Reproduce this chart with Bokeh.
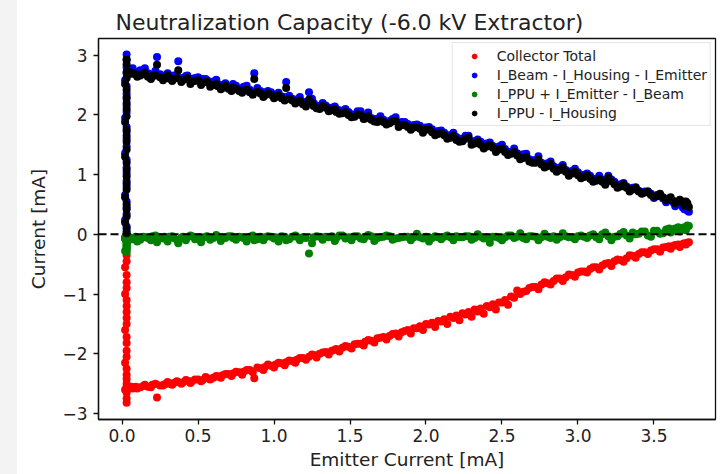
from bokeh.plotting import figure
from bokeh.models import (Range1d, Span, Legend, LegendItem, FixedTicker, Spacer,
                          ColumnDataSource)
from bokeh.layouts import row
from bokeh.embed import file_html
from bokeh.resources import INLINE

TITLE = "Neutralization Capacity (-6.0 kV Extractor)"
X_LABEL = "Emitter Current [mA]"
Y_LABEL = "Current [mA]"
SERIES_NAMES = ["Collector Total", "I_Beam - I_Housing - I_Emitter",
                "I_PPU + I_Emitter - I_Beam", "I_PPU - I_Housing"]

# --- vertical cluster at the lowest emitter current ---
cluster_x = [0.03, 0.03, 0.02, 0.03, 0.03, 0.03, 0.02, 0.03, 0.03, 0.03,
             0.03, 0.03, 0.02, 0.03, 0.03, 0.03, 0.03, 0.02, 0.03, 0.03,
             0.03, 0.03, 0.03, 0.02, 0.03, 0.03, 0.03, 0.03]
cluster_black = [0.02, 0.10, 0.20, 0.30, 0.42, 0.50, 0.62, 0.75, 0.85, 0.97,
                 1.08, 1.20, 1.30, 1.42, 1.55, 1.65, 1.75, 1.88, 1.98, 2.10,
                 2.20, 2.30, 2.42, 2.52, 2.62, 2.72, 2.85, 2.93]
cluster_blue = [0.05, 0.13, 0.24, 0.34, 0.45, 0.55, 0.66, 0.80, 0.90, 1.02,
                1.12, 1.25, 1.36, 1.47, 1.60, 1.72, 1.80, 1.95, 2.05, 2.16,
                2.27, 2.36, 2.48, 2.58, 2.70, 2.80, 2.92, 3.01]
cluster_green = [-0.02, -0.04, -0.06, -0.08, -0.10, -0.12, -0.05, -0.14, -0.16, -0.06,
                 -0.18, -0.20, -0.07, -0.22, -0.24, -0.05, -0.26, -0.28, -0.06, -0.30,
                 -0.08, -0.05, -0.10, -0.07, -0.12, -0.06, -0.09, -0.04]
cluster_red = [-0.35, -0.45, -0.55, -0.68, -0.80, -0.90, -1.00, -1.10, -1.20, -1.30,
               -1.40, -1.50, -1.60, -1.72, -1.82, -1.95, -2.05, -2.15, -2.25, -2.35,
               -2.42, -2.50, -2.55, -2.60, -2.62, -2.65, -2.75, -2.82]

# --- first sweep of emitter current ---
sweep1_x = [0.05, 0.07, 0.09, 0.12, 0.14, 0.17, 0.20, 0.23, 0.25, 0.28,
            0.31, 0.34, 0.37, 0.40, 0.43, 0.46, 0.50, 0.53, 0.56, 0.60,
            0.63, 0.66, 0.70, 0.73, 0.77, 0.80, 0.84, 0.87, 0.91, 0.94,
            0.98, 1.01, 1.05, 1.08, 1.12, 1.15, 1.19, 1.23, 1.26, 1.30,
            1.34, 1.38, 1.41, 1.45, 1.49, 1.53, 1.57, 1.60, 1.64, 1.68,
            1.72, 1.76, 1.80, 1.84, 1.88, 1.92, 1.96, 2.00, 2.04, 2.08,
            2.12, 2.16, 2.20, 2.24, 2.28, 2.32, 2.36, 2.40, 2.44, 2.48,
            2.52, 2.56, 2.60, 2.64, 2.68, 2.72, 2.76, 2.80, 2.84, 2.88,
            2.92, 2.96, 3.00, 3.04, 3.08, 3.12, 3.16, 3.20, 3.24, 3.28,
            3.32, 3.36, 3.40, 3.44, 3.48, 3.52, 3.56, 3.60, 3.63, 3.66,
            3.69, 3.72]
sweep1_black = [2.72, 2.70, 2.68, 2.66, 2.69, 2.64, 2.65, 2.84, 2.63, 2.62,
                2.61, 2.60, 2.75, 2.58, 2.62, 2.56, 2.58, 2.54, 2.55, 2.50,
                2.48, 2.45, 2.44, 2.46, 2.40, 2.41, 2.38, 2.60, 2.36, 2.33,
                2.34, 2.30, 2.28, 2.45, 2.24, 2.22, 2.18, 2.26, 2.15, 2.10,
                2.12, 2.08, 2.05, 2.03, 2.00, 1.97, 2.00, 1.94, 1.92, 1.88,
                1.88, 1.86, 1.90, 1.83, 1.80, 1.79, 1.77, 1.75, 1.71, 1.68,
                1.66, 1.62, 1.58, 1.56, 1.62, 1.52, 1.50, 1.47, 1.45, 1.42,
                1.38, 1.35, 1.32, 1.28, 1.22, 1.20, 1.17, 1.14, 1.10, 1.08,
                1.05, 1.02, 0.99, 0.96, 0.93, 0.90, 0.88, 0.95, 0.84, 0.80,
                0.78, 0.75, 0.72, 0.70, 0.66, 0.64, 0.62, 0.60, 0.56, 0.55,
                0.55, 0.52]
sweep1_blue = [2.77, 2.78, 2.72, 2.75, 2.73, 2.70, 2.68, 2.97, 2.68, 2.66,
               2.65, 2.66, 2.90, 2.62, 2.66, 2.60, 2.63, 2.60, 2.58, 2.56,
               2.52, 2.50, 2.47, 2.52, 2.44, 2.47, 2.42, 2.70, 2.40, 2.38,
               2.38, 2.34, 2.31, 2.55, 2.27, 2.26, 2.22, 2.38, 2.20, 2.14,
               2.16, 2.12, 2.10, 2.06, 2.05, 2.00, 2.06, 1.98, 1.95, 1.93,
               1.92, 1.90, 1.96, 1.88, 1.85, 1.83, 1.82, 1.79, 1.76, 1.73,
               1.70, 1.66, 1.63, 1.60, 1.65, 1.56, 1.55, 1.52, 1.48, 1.47,
               1.43, 1.38, 1.36, 1.34, 1.26, 1.24, 1.20, 1.19, 1.14, 1.12,
               1.08, 1.06, 1.04, 1.00, 0.98, 0.93, 0.92, 0.98, 0.88, 0.84,
               0.80, 0.78, 0.73, 0.72, 0.68, 0.66, 0.60, 0.58, 0.53, 0.52,
               0.45, 0.40]
sweep1_green = [-0.05, -0.08, -0.04, -0.09, -0.04, -0.06, -0.03, -0.13, -0.05, -0.04,
                -0.04, -0.06, -0.15, -0.04, -0.05, -0.03, -0.05, -0.06, -0.03, -0.06,
                -0.04, -0.05, -0.03, -0.06, -0.04, -0.06, -0.04, -0.10, -0.04, -0.05,
                -0.04, -0.05, -0.03, -0.10, -0.04, -0.04, -0.05, -0.32, -0.05, -0.04,
                -0.04, -0.03, -0.06, -0.02, -0.05, -0.03, -0.07, -0.04, -0.03, -0.06,
                -0.04, -0.03, -0.07, -0.05, -0.04, -0.05, -0.05, -0.04, -0.06, -0.05,
                -0.04, -0.05, -0.03, -0.05, -0.03, -0.06, -0.04, -0.05, -0.04, -0.06,
                -0.05, -0.02, -0.04, -0.06, -0.03, -0.04, -0.05, -0.04, -0.03, -0.05,
                -0.03, -0.05, -0.03, -0.04, -0.02, -0.05, 0.00, -0.03, -0.04, 0.01,
                -0.02, 0.03, 0.01, 0.05, -0.04, 0.06, 0.02, 0.10, 0.08, 0.12,
                0.10, 0.15]
sweep1_red = [-2.57, -2.58, -2.55, -2.56, -2.54, -2.55, -2.52, -2.73, -2.53, -2.51,
              -2.50, -2.49, -2.47, -2.48, -2.45, -2.46, -2.43, -2.44, -2.41, -2.40,
              -2.38, -2.36, -2.34, -2.33, -2.31, -2.30, -2.27, -2.41, -2.24, -2.22,
              -2.20, -2.18, -2.16, -2.14, -2.12, -2.10, -2.07, -2.05, -2.02, -2.00,
              -1.97, -1.95, -1.92, -1.90, -1.88, -1.84, -1.83, -1.80, -1.78, -1.74,
              -1.72, -1.70, -1.66, -1.64, -1.60, -1.57, -1.54, -1.50, -1.48, -1.45,
              -1.42, -1.38, -1.36, -1.32, -1.30, -1.26, -1.24, -1.20, -1.17, -1.14,
              -1.10, -1.04, -0.94, -0.96, -0.90, -0.88, -0.84, -0.82, -0.78, -0.74,
              -0.72, -0.68, -0.64, -0.62, -0.58, -0.55, -0.52, -0.48, -0.45, -0.43,
              -0.40, -0.36, -0.33, -0.30, -0.27, -0.25, -0.22, -0.20, -0.19, -0.17,
              -0.16, -0.14]

# --- second sweep of emitter current ---
sweep2_x = [0.06, 0.10, 0.15, 0.19, 0.22, 0.27, 0.30, 0.33, 0.36, 0.39,
            0.42, 0.45, 0.48, 0.52, 0.55, 0.58, 0.62, 0.65, 0.68, 0.72,
            0.75, 0.79, 0.82, 0.86, 0.89, 0.93, 0.96, 1.00, 1.03, 1.07,
            1.10, 1.14, 1.17, 1.21, 1.25, 1.28, 1.32, 1.36, 1.40, 1.43,
            1.47, 1.51, 1.55, 1.59, 1.62, 1.66, 1.70, 1.74, 1.78, 1.82,
            1.86, 1.90, 1.94, 1.98, 2.02, 2.06, 2.10, 2.14, 2.18, 2.22,
            2.26, 2.30, 2.34, 2.38, 2.42, 2.46, 2.50, 2.54, 2.58, 2.62,
            2.66, 2.70, 2.74, 2.78, 2.82, 2.86, 2.90, 2.94, 2.98, 3.02,
            3.06, 3.10, 3.14, 3.18, 3.22, 3.26, 3.30, 3.34, 3.38, 3.42,
            3.46, 3.50, 3.54, 3.58, 3.61, 3.64, 3.67, 3.70, 3.71, 3.73]
sweep2_black = [2.69, 2.64, 2.71, 2.60, 2.66, 2.58, 2.66, 2.57, 2.62, 2.55,
                2.60, 2.52, 2.57, 2.50, 2.55, 2.47, 2.52, 2.43, 2.49, 2.40,
                2.44, 2.37, 2.42, 2.34, 2.39, 2.30, 2.36, 2.28, 2.33, 2.24,
                2.27, 2.19, 2.24, 2.14, 2.20, 2.11, 2.15, 2.06, 2.10, 2.02,
                2.05, 1.96, 2.01, 1.93, 1.98, 1.89, 1.91, 1.84, 1.89, 1.80,
                1.83, 1.75, 1.80, 1.70, 1.76, 1.66, 1.70, 1.60, 1.65, 1.55,
                1.60, 1.50, 1.55, 1.44, 1.50, 1.38, 1.44, 1.33, 1.38, 1.26,
                1.30, 1.20, 1.25, 1.12, 1.18, 1.05, 1.12, 0.98, 1.05, 0.94,
                0.99, 0.88, 0.93, 0.83, 0.89, 0.78, 0.84, 0.72, 0.78, 0.68,
                0.72, 0.63, 0.68, 0.57, 0.62, 0.52, 0.58, 0.48, 0.55, 0.46]
sweep2_blue = [2.76, 2.70, 2.78, 2.66, 2.74, 2.63, 2.70, 2.64, 2.67, 2.61,
               2.65, 2.58, 2.62, 2.57, 2.60, 2.52, 2.59, 2.49, 2.53, 2.46,
               2.49, 2.42, 2.49, 2.38, 2.45, 2.35, 2.40, 2.34, 2.37, 2.30,
               2.32, 2.24, 2.30, 2.18, 2.27, 2.16, 2.20, 2.12, 2.14, 2.08,
               2.10, 2.01, 2.06, 1.97, 2.04, 1.93, 1.98, 1.88, 1.93, 1.86,
               1.88, 1.80, 1.84, 1.76, 1.80, 1.71, 1.74, 1.66, 1.70, 1.60,
               1.65, 1.56, 1.59, 1.50, 1.54, 1.44, 1.50, 1.38, 1.44, 1.32,
               1.35, 1.24, 1.31, 1.17, 1.22, 1.10, 1.16, 1.03, 1.10, 0.98,
               1.02, 0.92, 0.98, 0.86, 0.92, 0.82, 0.86, 0.75, 0.79, 0.70,
               0.72, 0.61, 0.66, 0.54, 0.58, 0.47, 0.52, 0.42, 0.47, 0.38]
sweep2_green = [-0.08, -0.12, -0.05, -0.10, -0.02, -0.07, -0.12, -0.03, -0.09, -0.06,
                -0.10, -0.02, -0.08, -0.13, -0.04, -0.09, -0.01, -0.11, -0.06, -0.03,
                -0.09, -0.05, -0.12, -0.02, -0.08, -0.10, -0.03, -0.07, -0.12, -0.04,
                -0.08, -0.02, -0.10, -0.06, -0.15, -0.03, -0.09, -0.05, -0.11, -0.02,
                -0.07, -0.10, -0.03, -0.08, -0.01, -0.11, -0.05, -0.02, -0.09, -0.06,
                -0.04, -0.10, 0.01, -0.07, -0.12, -0.03, -0.08, -0.02, -0.10, -0.05,
                -0.03, -0.09, 0.00, -0.07, -0.14, -0.04, -0.10, -0.02, -0.06, 0.02,
                -0.08, -0.03, -0.10, 0.01, -0.06, -0.09, 0.02, -0.05, -0.08, -0.02,
                -0.06, 0.00, -0.08, 0.03, -0.10, -0.03, 0.04, -0.07, 0.00, 0.05,
                -0.02, 0.06, 0.01, 0.08, 0.03, 0.10, 0.05, 0.12, 0.07, 0.14]
sweep2_red = [-2.55, -2.58, -2.52, -2.56, -2.50, -2.53, -2.47, -2.52, -2.46, -2.50,
              -2.44, -2.49, -2.43, -2.46, -2.39, -2.43, -2.37, -2.40, -2.34, -2.37,
              -2.30, -2.35, -2.27, -2.31, -2.23, -2.27, -2.18, -2.23, -2.15, -2.19,
              -2.11, -2.15, -2.07, -2.10, -2.01, -2.06, -1.98, -2.01, -1.93, -1.96,
              -1.87, -1.91, -1.83, -1.86, -1.77, -1.81, -1.73, -1.76, -1.67, -1.71,
              -1.62, -1.66, -1.57, -1.60, -1.51, -1.55, -1.46, -1.50, -1.40, -1.44,
              -1.34, -1.38, -1.29, -1.33, -1.22, -1.26, -1.14, -1.18, -1.06, -1.00,
              -0.95, -0.88, -0.92, -0.80, -0.84, -0.74, -0.78, -0.67, -0.71, -0.62,
              -0.64, -0.55, -0.59, -0.49, -0.53, -0.42, -0.46, -0.35, -0.39, -0.30,
              -0.33, -0.25, -0.29, -0.21, -0.24, -0.18, -0.21, -0.15, -0.17, -0.13]

x_ticks = [0.0, 0.5, 1.0, 1.5, 2.0, 2.5, 3.0, 3.5]
x_tick_labels = ["0.0", "0.5", "1.0", "1.5", "2.0", "2.5", "3.0", "3.5"]
y_ticks = [-3, -2, -1, 0, 1, 2, 3]
y_tick_labels = ["\u22123", "\u22122", "\u22121", "0", "1", "2", "3"]

src = ColumnDataSource(dict(
    x=cluster_x + sweep1_x + sweep2_x,
    red=cluster_red + sweep1_red + sweep2_red,
    blue=cluster_blue + sweep1_blue + sweep2_blue,
    green=cluster_green + sweep1_green + sweep2_green,
    black=cluster_black + sweep1_black + sweep2_black,
))

FONT = "DejaVu Sans"
TXT = "#222222"

p = figure(width=706, height=474, output_backend="svg", toolbar_location=None,
           x_range=Range1d(-0.155, 3.905), y_range=Range1d(-3.10, 3.28),
           min_border_left=81, min_border_right=8, min_border_top=38,
           min_border_bottom=55, background_fill_color="white",
           border_fill_color="white")

p.title.text = TITLE
p.title.text_font = FONT
p.title.text_font_size = "22px"
p.title.text_font_style = "normal"
p.title.text_color = TXT
p.title.align = "left"
p.title.offset = 17
p.title.standoff = 8

p.outline_line_color = "#111111"
p.outline_line_width = 1.3
p.xgrid.visible = False
p.ygrid.visible = False

for ax in (p.xaxis[0], p.yaxis[0]):
    ax.axis_line_color = "#111111"
    ax.axis_line_width = 1.3
    ax.major_tick_line_color = "#111111"
    ax.major_tick_line_width = 1.3
    ax.major_tick_out = 5
    ax.major_tick_in = 0
    ax.minor_tick_line_color = None
    ax.major_label_text_font = FONT
    ax.major_label_text_font_size = "17px"
    ax.major_label_text_color = TXT
    ax.axis_label_text_font = FONT
    ax.axis_label_text_font_size = "18.5px"
    ax.axis_label_text_font_style = "normal"
    ax.axis_label_text_color = TXT

p.xaxis[0].ticker = FixedTicker(ticks=x_ticks)
p.xaxis[0].major_label_overrides = {t: l for t, l in zip(x_ticks, x_tick_labels)}
p.xaxis[0].axis_label = X_LABEL
p.xaxis[0].major_label_standoff = 4
p.xaxis[0].axis_label_standoff = 4

p.yaxis[0].ticker = FixedTicker(ticks=y_ticks)
p.yaxis[0].major_label_overrides = {t: l for t, l in zip(y_ticks, y_tick_labels)}
p.yaxis[0].axis_label = Y_LABEL
p.yaxis[0].major_label_standoff = 6
p.yaxis[0].axis_label_standoff = 10

colors = ["#ff0000", "#0000ff", "#008000", "#000000"]
cols = ["red", "blue", "green", "black"]
for c, col in zip(cols, colors):
    p.scatter(x="x", y=c, source=src, size=8, fill_color=col, line_color=col,
              line_width=0)

p.add_layout(Span(location=0, dimension="width", line_color="black",
                  line_width=2, line_dash="8 4"))

# legend-only renderers (small markers like the reference legend)
nan = float("nan")
leg_items = []
for name, col in zip(SERIES_NAMES, colors):
    r = p.scatter(x=[nan], y=[nan], size=4, fill_color=col, line_color=col)
    leg_items.append(LegendItem(label=name, renderers=[r]))

legend = Legend(items=leg_items, location="top_right", margin=4,
                padding=3, spacing=0, glyph_width=37, glyph_height=12,
                label_height=19, label_standoff=4,
                label_text_font=FONT, label_text_font_size="14px",
                label_text_color=TXT, border_line_color="#cccccc",
                border_line_width=1, background_fill_color="white",
                background_fill_alpha=0.8)
p.add_layout(legend)

strip = Spacer(width=17, height=474, styles={"background-color": "#f3f3f3"})
layout = row(strip, p, spacing=0)

open("out.html", "w").write(file_html(layout, INLINE))
